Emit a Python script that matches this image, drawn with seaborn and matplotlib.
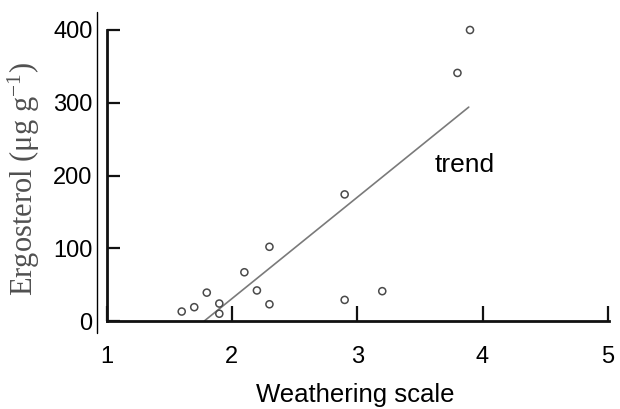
import matplotlib
matplotlib.use("Agg")
import matplotlib.pyplot as plt
from matplotlib.lines import Line2D
import seaborn as sns
import pandas as pd

# --- data ---
weathering = [1.6, 1.7, 1.8, 1.9, 1.9, 2.1, 2.2, 2.3, 2.3, 2.9, 3.2, 2.9, 3.8, 3.9]
ergosterol = [13, 19, 39, 24, 10, 67, 42, 102, 23, 29, 41, 174, 341, 400]
trend_x = [1.78, 3.89]
trend_y = [0, 294]
x_ticks = [1, 2, 3, 4, 5]
y_ticks = [0, 100, 200, 300, 400]

sns.set_theme(style="white")
plt.rcParams["font.family"] = ["Liberation Sans", "DejaVu Sans"]
plt.rcParams["mathtext.fontset"] = "custom"
plt.rcParams["mathtext.rm"] = "Liberation Serif"
plt.rcParams["mathtext.it"] = "Liberation Serif:italic"

df = pd.DataFrame({"Weathering scale": weathering, "Ergosterol": ergosterol})
tdf = pd.DataFrame({"x": trend_x, "y": trend_y})

fig = plt.figure(figsize=(6.2, 4.09), dpi=100)
ax = fig.add_axes([106.5 / 620, 88 / 409, 502 / 620, 291 / 409])

sns.lineplot(data=tdf, x="x", y="y", ax=ax, color="#7a7a7a", linewidth=1.2)
sns.scatterplot(data=df, x="Weathering scale", y="Ergosterol", ax=ax,
                marker="o", s=26, color="#4a4a4a", linewidth=1.1, clip_on=False, zorder=3)
for coll in ax.collections:
    coll.set_facecolor("none")
    coll.set_edgecolor("#4a4a4a")

ax.set_xlim(1, 5.005)
ax.set_ylim(0, 400)
ax.set_xticks(x_ticks)
ax.set_yticks(y_ticks)
ax.set_xticklabels([str(v) for v in x_ticks])
ax.set_yticklabels([str(v) for v in y_ticks])

for s in ["top", "right"]:
    ax.spines[s].set_visible(False)
for s in ["left", "bottom"]:
    ax.spines[s].set_visible(True)
    ax.spines[s].set_color("#111111")
    ax.spines[s].set_linewidth(2.0)

ax.tick_params(axis="y", direction="in", length=9, width=1.6, color="#111111",
               labelsize=17, pad=10, labelcolor="black", left=True)
ax.tick_params(axis="x", direction="in", length=11, width=1.6, color="#111111",
               labelsize=17, pad=18, labelcolor="black", bottom=True)

ax.set_xlabel("Weathering scale", fontsize=18.5, color="black", va="center")
ax.xaxis.set_label_coords(0.496, -0.255)
ax.set_ylabel("Ergosterol ($\\mathrm{\\mu}$g g$^{-1}$)", fontsize=22, color="#505050",
              family=["Liberation Serif", "DejaVu Serif"], va="center", ha="center")
ax.yaxis.set_label_coords(-0.164, 0.488)

ax.text(3.62, 214, "trend", fontsize=19, color="black", ha="left", va="center")

fig.add_artist(Line2D([97 / 620, 97 / 620], [1 - 12 / 409, 1 - 333 / 409],
                      color="black", linewidth=1.0))

fig.savefig("out.png", dpi=100)
